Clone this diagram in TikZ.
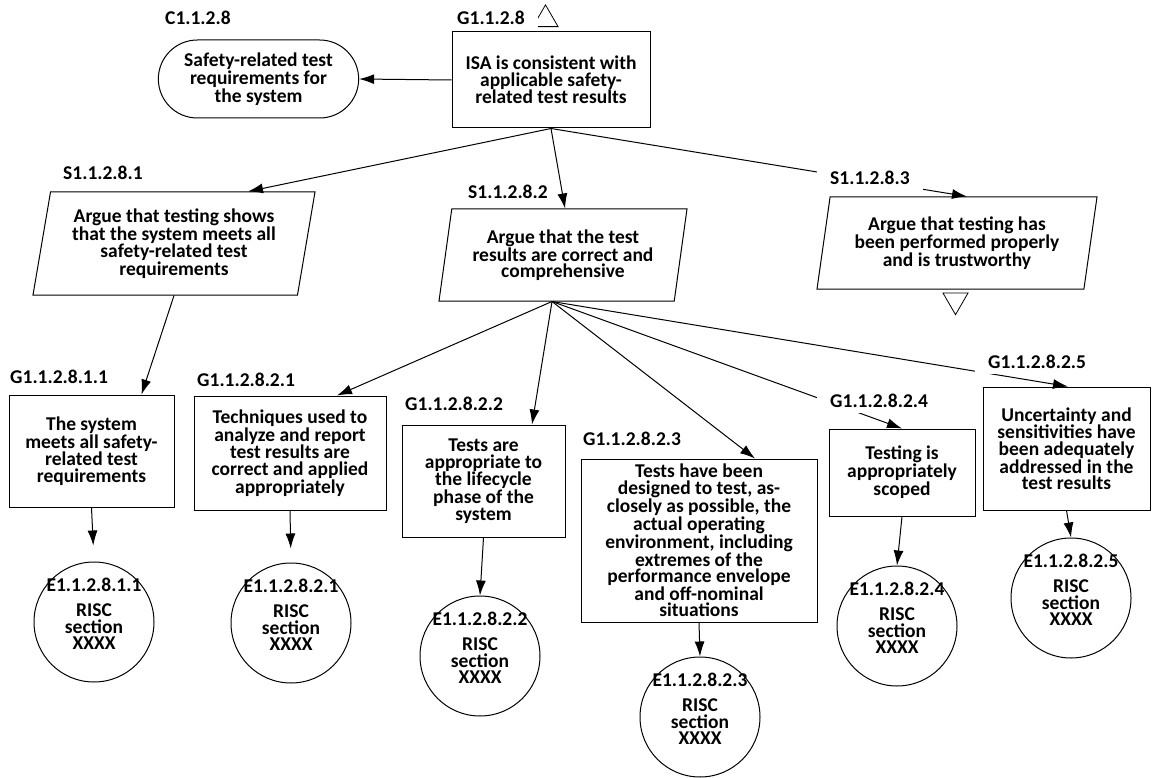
\documentclass[tikz,border=0pt]{standalone}
\usepackage{fontspec}
\setmainfont{Carlito}
\usetikzlibrary{arrows.meta,shapes.geometric,shapes.misc,positioning}

% evidence bubble text: id on top, reference below (empty last row lifts it a bit)
\newcommand{\evtext}[1]{\makebox[0pt]{#1}\\[9pt]RISC\\section\\XXXX\\\mbox{}}

\begin{document}
\begin{tikzpicture}[
    x=1pt, y=-1pt,
    every node/.style={font=\fontsize{19.5}{16.5}\selectfont\bfseries, align=center},
    goal/.style={rectangle, draw, line width=1pt, fill=white},
    strat/.style={trapezium, trapezium left angle=76, trapezium right angle=104,
        trapezium stretches body=true, draw, line width=1pt, fill=white, inner sep=0pt},
    ctx/.style={rounded rectangle, draw, line width=1pt, fill=white},
    evid/.style={circle, draw, line width=1pt, minimum size=120pt, inner sep=0pt, fill=white},
    tag/.style={fill=white, anchor=base west, inner xsep=13pt, inner ysep=2pt, text depth=4pt},
    undev/.style={regular polygon, regular polygon sides=3, draw, line width=0.8pt,
        minimum size=29pt, inner sep=0pt},
    arrow/.style={-{Latex[length=15pt,width=10pt]}, line width=1pt}
]
    \useasboundingbox (0,0) rectangle (1154,778);

    % top goal and its context
    \node[ctx, minimum width=207pt, minimum height=78pt] (C) at (258.5,79) {Safety-related test\\requirements for\\the system};
    \node[goal, minimum width=198pt, minimum height=96pt] (G) at (551,80) {ISA is consistent with\\applicable safety-\\related test results};
    \node[undev] (Gtri) at (545.5,19.4) {};

    % strategies
    \node[strat, minimum width=282pt, minimum height=103pt] (S1) at (174,243.5) {Argue that testing shows\\that the system meets all\\safety-related test\\requirements};
    \node[strat, minimum width=248pt, minimum height=92pt] (S2) at (563,255) {Argue that the test\\results are correct and\\comprehensive};
    \node[strat, minimum width=280pt, minimum height=92pt] (S3) at (957,243) {Argue that testing has\\been performed properly\\and is trustworthy};
    \node[undev, shape border rotate=180] (S3tri) at (955.5,300.2) {};

    % sub-goals
    \node[goal, minimum width=165pt, minimum height=112pt] (G111) at (91.5,451) {The system\\meets all safety-\\related test\\requirements};
    \node[goal, minimum width=192pt, minimum height=114pt] (G821) at (290,453) {Techniques used to\\analyze and report\\test results are\\correct and applied\\appropriately};
    \node[goal, minimum width=163pt, minimum height=112pt] (G822) at (483.5,481) {Tests are\\appropriate to\\the lifecycle\\phase of the\\system};
    \node[goal, minimum width=236pt, minimum height=163pt] (G823) at (699,540.5) {Tests have been\\designed to test, as-\\closely as possible, the\\actual operating\\environment, including\\extremes of the\\performance envelope\\and off-nominal\\situations};
    \node[goal, minimum width=146pt, minimum height=87pt] (G824) at (902,472.5) {Testing is\\appropriately\\scoped};
    \node[goal, minimum width=167pt, minimum height=123pt] (G825) at (1066.5,448.5) {Uncertainty and\\sensitivities have\\been adequately\\addressed in the\\test results};

    % evidence
    \node[evid] (E111) at (94,622) {\evtext{E1.1.2.8.1.1}};
    \node[evid] (E821) at (291,623) {\evtext{E1.1.2.8.2.1}};
    \node[evid] (E822) at (480,656) {\evtext{E1.1.2.8.2.2}};
    \node[evid] (E823) at (700,717) {\evtext{E1.1.2.8.2.3}};
    \node[evid] (E824) at (897,626) {\evtext{E1.1.2.8.2.4}};
    \node[evid] (E825) at (1071,598) {\evtext{E1.1.2.8.2.5}};

    \draw[arrow] (G.west) -- (C.east);
    \draw[arrow] (G.south) -- ([xshift=74pt]S1.north);
    \draw[arrow] (G.south) -- ([xshift=2pt]S2.north);
    \draw[arrow] (G.south) -- ([xshift=10pt]S3.north);

    \draw[arrow] (S1.south) -- ([xshift=50pt]G111.north);
    \draw[arrow] ([xshift=-11pt]S2.south) -- ([xshift=47pt]G821.north);
    \draw[arrow] ([xshift=-11pt]S2.south) -- ([xshift=48.5pt]G822.north);
    \draw[arrow] ([xshift=-11pt]S2.south) -- ([xshift=56pt]G823.north);
    \draw[arrow] ([xshift=-11pt]S2.south) -- (G824.north);
    \draw[arrow] ([xshift=-11pt]S2.south) -- ([xshift=1.5pt]G825.north);

    \draw[arrow, shorten >=16pt] (G111.south) -- (E111.north);
    \draw[arrow, shorten >=14pt] (G821.south) -- (E821.north);
    \draw[arrow] (G822.south) -- (E822.north);
    \draw[arrow] (G823.south) -- (E823.north);
    \draw[arrow] (G824.south) -- (E824.north);
    \draw[arrow] (G825.south) -- (E825.north);

    % ids, white behind so the links pass under them
    \node[tag] (tC) at (152,24.3) {C1.1.2.8};
    \node[tag] (tG) at (444,24.3) {G1.1.2.8};
    \node[tag] (tS1) at (50,179.3) {S1.1.2.8.1};
    \node[tag, inner xsep=4pt] (tS2) at (464,198.3) {S1.1.2.8.2};
    \node[tag] (tS3) at (817,184.3) {S1.1.2.8.3};
    \node[tag] (tG111) at (-3,383.3) {G1.1.2.8.1.1};
    \node[tag] (tG821) at (184,386.3) {G1.1.2.8.2.1};
    \node[tag] (tG822) at (392,410.3) {G1.1.2.8.2.2};
    \node[tag] (tG823) at (570,445.3) {G1.1.2.8.2.3};
    \node[tag] (tG824) at (817,407.3) {G1.1.2.8.2.4};
    \node[tag] (tG825) at (975,368.3) {G1.1.2.8.2.5};
\end{tikzpicture}
\end{document}
